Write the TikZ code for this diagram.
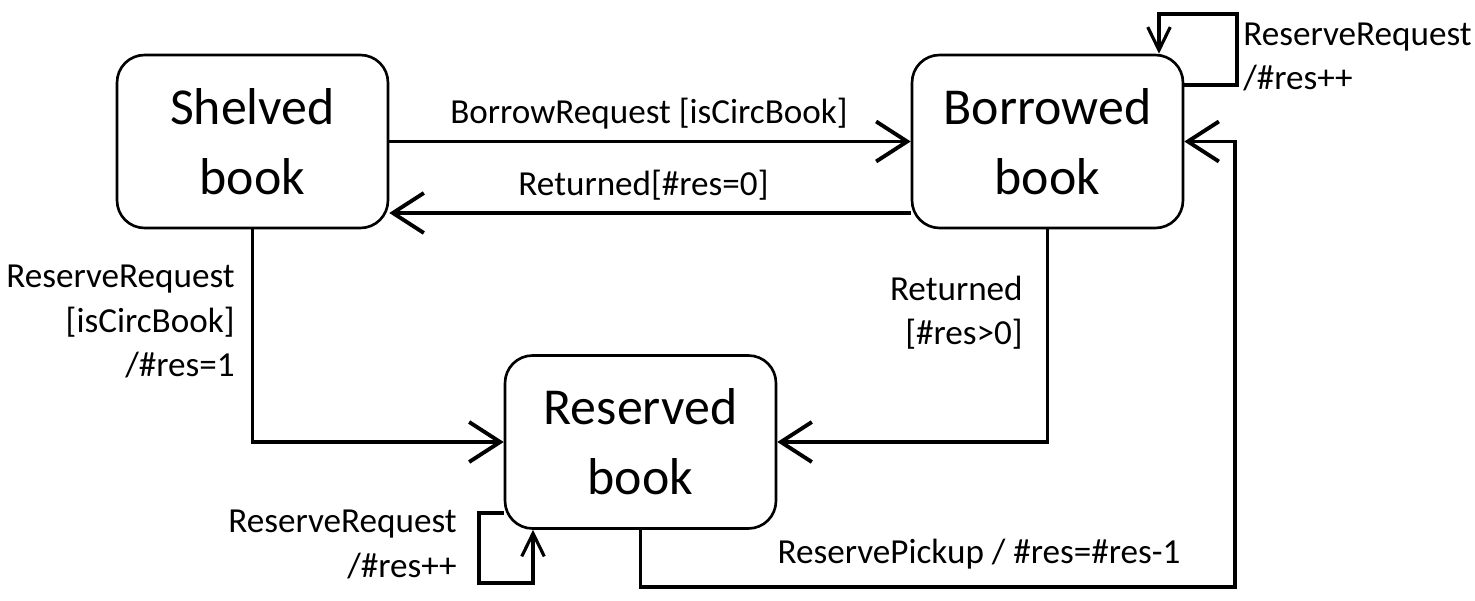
\documentclass[tikz,border=0pt]{standalone}
\usepackage{fontspec}
\setmainfont{Carlito}
\usetikzlibrary{arrows.meta}

\begin{document}
\begin{tikzpicture}[x=0.02cm, y=-0.02cm,
  state/.style={rectangle, draw, line width=1.5pt, rounded corners=0.55cm,
    minimum width=5.42cm, minimum height=3.46cm, align=center,
    font=\fontsize{29.5}{40}\selectfont},
  lbl/.style={inner sep=0pt, font=\fontsize{20}{25.5}\selectfont},
  conn/.style={line width=2.2pt, -{Straight Barb[length=0.62cm,width=0.8cm]}},
  selfloop/.style={line width=1.8pt, -{Straight Barb[length=0.46cm,width=0.45cm]}}]
\useasboundingbox (0,0) rectangle (1475,601);
\node at (252.5,141.5) [state] (S) {Shelved\\book};
\node at (1047.5,141.5) [state] (B) {Borrowed\\book};
\node at (640.5,442) [state] (R) {Reserved\\book};
\coordinate (P) at (1235,587);
\coordinate (LB) at (1237,14);
\coordinate (LR) at (479,583);
\node at (649,124) [lbl, anchor=base] (borrowlbl) {BorrowRequest [isCircBook]};
\node at (643.5,196) [lbl, anchor=base] (returnlbl) {Returned[\#res=0]};
\node at (235,377) [lbl, anchor=base east, align=right] (reservelbl) {ReserveRequest\\{}[isCircBook]\\/\#res=1};
\node at (1023,345) [lbl, anchor=base east, align=right] (returnedlbl) {Returned\\{}[\#res>0]};
\node at (979,563) [lbl, anchor=base] (pickuplbl) {ReservePickup / \#res=\#res-1};
\node at (1243,90) [lbl, anchor=base west, align=left] (loopBlbl) {ReserveRequest\\/\#res++};
\node at (457,577) [lbl, anchor=base east, align=right] (loopRlbl) {ReserveRequest\\/\#res++};
\draw[conn] (S) -- (B);
\draw[conn] ([yshift=-1.43cm]B.west) -- ([yshift=-1.43cm]S.east);
\draw[conn] (S.south) |- (R.west);
\draw[conn] (B.south) |- (R.east);
\draw[conn] (R.south) |- (P) |- (B.east);
\draw[selfloop] ([yshift=1.13cm]B.east) -| (LB) -| ([xshift=2.23cm]B.north);
\draw[selfloop] ([yshift=-1.42cm]R.west) -| (LR) -| ([xshift=-2.15cm]R.south);
\end{tikzpicture}
\end{document}
